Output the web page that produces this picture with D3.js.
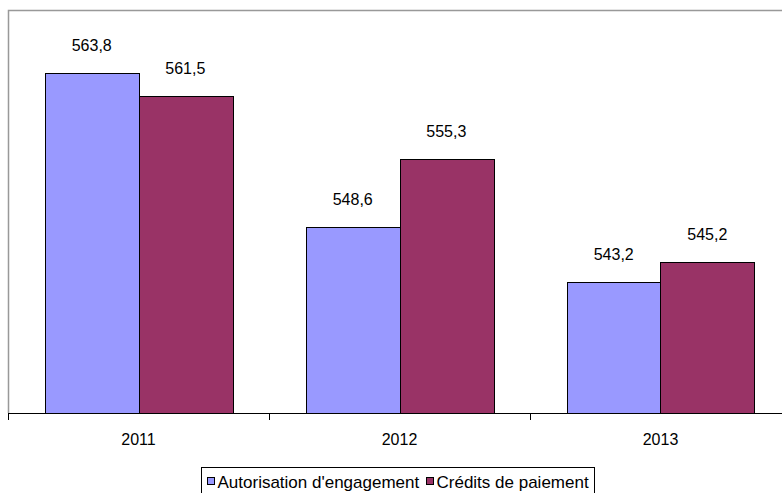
<!DOCTYPE html>
<html><head><meta charset="utf-8">
<script src="https://cdn.jsdelivr.net/npm/d3@7"></script>
<style>body{margin:0;background:#fff;overflow:hidden}text{font-family:Arial,"Liberation Sans",sans-serif;fill:#000}</style>
</head><body>
<svg id="c" width="782" height="493"></svg>
<script>
const years = ["2011","2012","2013"];
const seriesNames = ["Autorisation d'engagement","Crédits de paiement"];
const ae = [563.8, 548.6, 543.2];
const cp = [561.5, 555.3, 545.2];
const colors = ["#9999FF","#993366"];
const yDomain = [530.3, 570.0];

const svg = d3.select("#c");
const L = 8, T = 10, B = 413, R = 791;
const x0 = d3.scaleBand().domain(years).range([L, R]).paddingInner(0.283).paddingOuter(0.1415);
const x1 = d3.scaleBand().domain(seriesNames).range([0, x0.bandwidth()]);
const y = d3.scaleLinear().domain(yDomain).range([B, T]);

// plot border (gray)
svg.append("path").attr("d", `M${L+0.5},${B}V${T+0.5}H${R}`).attr("fill","none").attr("stroke","#999").attr("stroke-width",1.5);

const data = years.map((yr,i)=>({yr, vals:[ae[i], cp[i]]}));
const g = svg.append("g");
data.forEach(d=>{
  d.vals.forEach((v,j)=>{
    const xx = x0(d.yr)+x1(seriesNames[j]);
    g.append("rect").attr("x", Math.round(xx)+0.5).attr("y", Math.round(y(v))+0.5)
      .attr("width", Math.round(x1.bandwidth())).attr("height", B-Math.round(y(v)))
      .attr("fill", colors[j]).attr("stroke","#000").attr("stroke-width",1);
    g.append("text").attr("x", xx + x1.bandwidth()/2).attr("y", y(v)-22)
      .attr("text-anchor","middle").attr("font-size","16px")
      .text(v.toFixed(1).replace(".",","));
  });
});

// x axis
const axis = d3.axisBottom(x0).tickSize(0).tickPadding(0);
const ax = svg.append("g").attr("transform",`translate(0,${B+0.5})`).call(axis);
ax.select(".domain").attr("d", `M${L},0H${R}`).attr("stroke","#000");
ax.selectAll(".tick text").attr("font-size","16px").attr("y", 31).attr("dy", 0).style("font-family","Arial, 'Liberation Sans', sans-serif");
// boundary ticks
const bounds = years.map(yr=>x0(yr)-x0.step()*x0.paddingInner()/2).concat([R]);
svg.selectAll(".bt").data(bounds).join("line").attr("class","bt")
  .attr("x1",d=>Math.round(d)+0.5).attr("x2",d=>Math.round(d)+0.5).attr("y1",B).attr("y2",B+7)
  .attr("stroke","#000");

// legend
const lg = svg.append("g");
lg.append("rect").attr("x",201.5).attr("y",467.5).attr("width",393).attr("height",40).attr("fill","#fff").attr("stroke","#000");
const lx = [207, 426];
seriesNames.forEach((n,j)=>{
  lg.append("rect").attr("x",lx[j]+0.5).attr("y",477.5).attr("width",7).attr("height",7).attr("fill",colors[j]).attr("stroke","#000");
  lg.append("text").attr("x",lx[j]+10.5).attr("y",488).attr("font-size","17px").text(n);
});
</script>
</body></html>
